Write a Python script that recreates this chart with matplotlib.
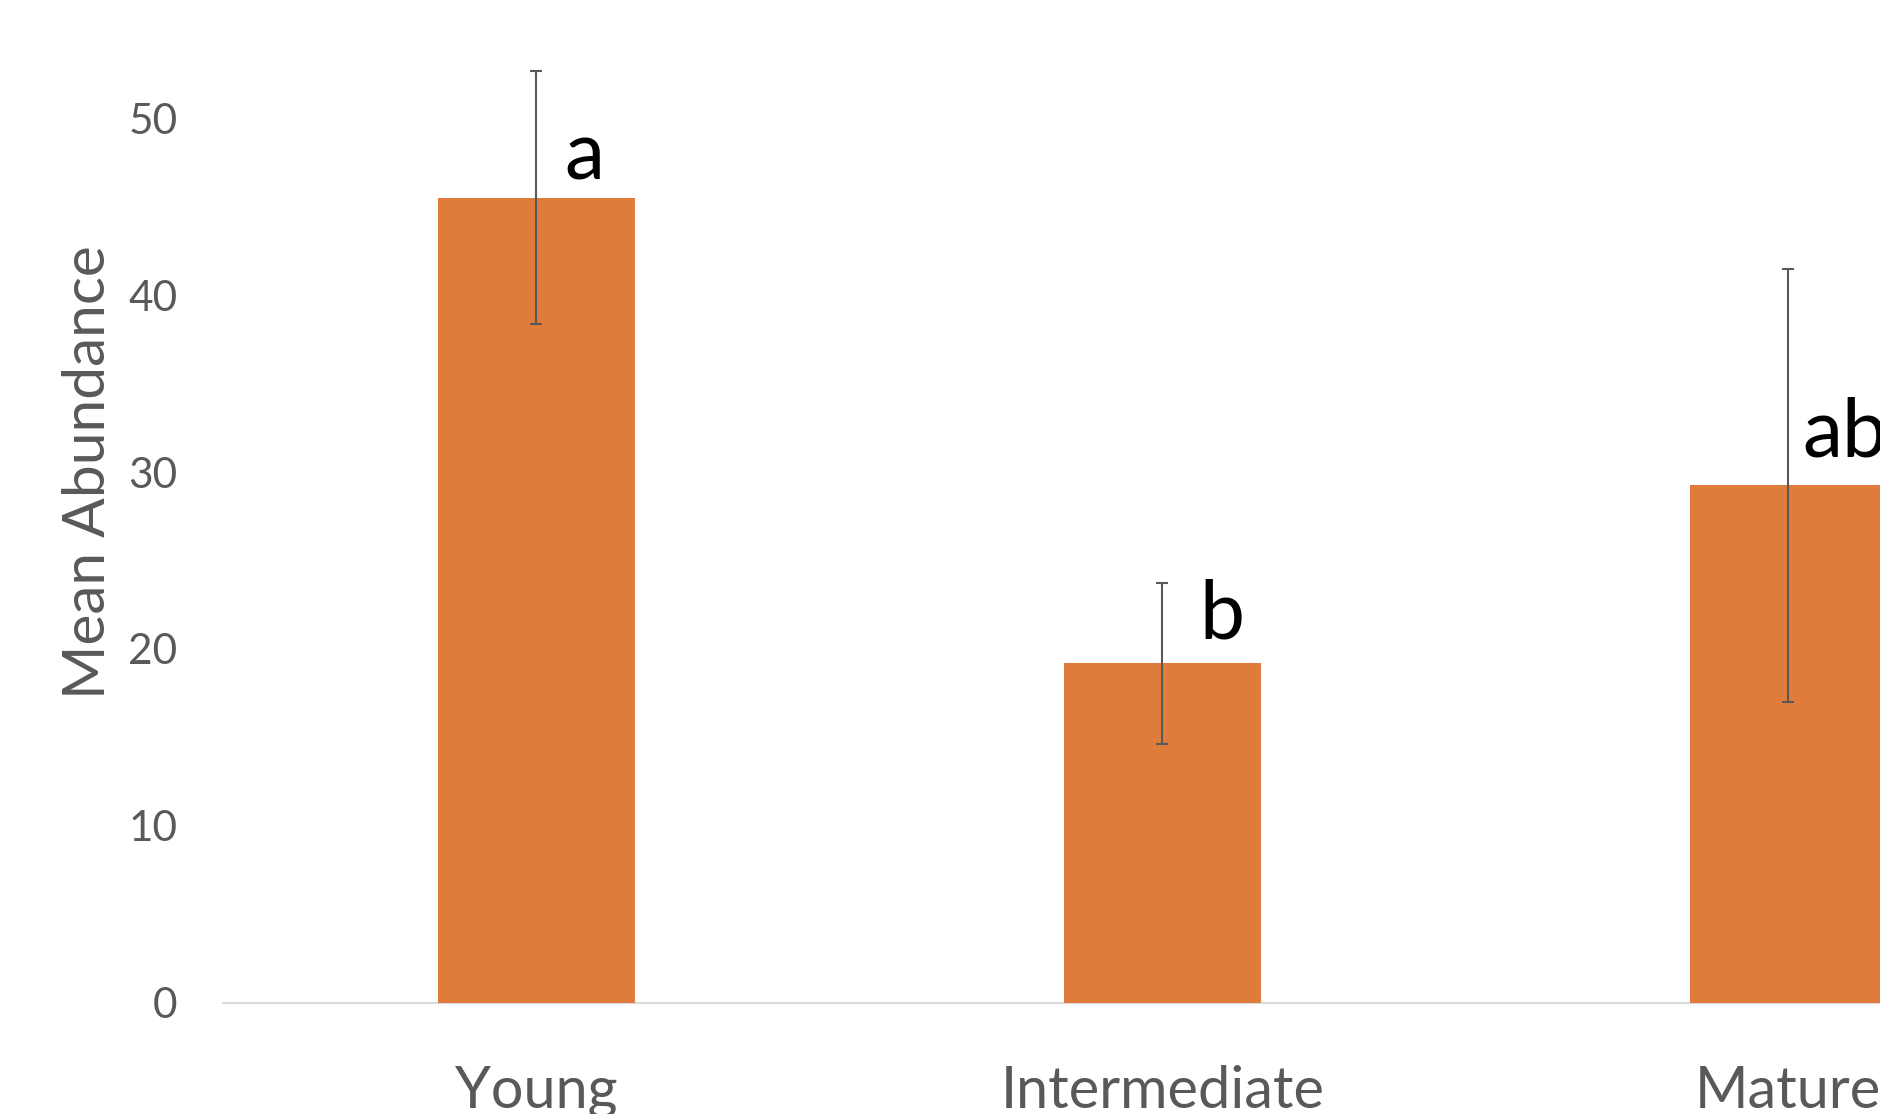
import matplotlib
matplotlib.use("Agg")
import matplotlib.pyplot as plt

plt.rcParams['font.family'] = ['Lato', 'DejaVu Sans']

categories = ["Young", "Intermediate", "Mature"]
means = [45.5, 19.2, 29.25]
errors = [7.15, 4.55, 12.25]
letters = ["a", "b", "ab"]
letter_offsets_px = [(28, 18), (37, 25), (14, 29)]
yticks = [0, 10, 20, 30, 40, 50]

bar_color = "#E07C3B"
text_gray = "#595959"

fig = plt.figure(figsize=(18.8, 11.14), dpi=100)
# axes extends beyond the figure on the right/top (reference is cropped)
W, H = 1880.0, 1114.0
x_left_px = 223.3
unit_px = 626.0
y0_px = 1002.7
ten_px = 176.9
ymax = 60
ax = fig.add_axes([x_left_px / W, (H - y0_px) / H,
                   3 * unit_px / W, (ymax / 10) * ten_px / H])

x = list(range(len(categories)))
ax.bar(x, means, width=0.314, color=bar_color, zorder=2)
ax.errorbar(x, means, yerr=errors, fmt='none', ecolor=text_gray,
            elinewidth=1.5, capsize=4.3, capthick=1.5, zorder=3)

for xi, m, lab, (dx, dy) in zip(x, means, letters, letter_offsets_px):
    ax.annotate(lab, xy=(xi, m), xytext=(dx, dy), textcoords='offset pixels',
                ha='left', va='baseline', fontsize=58, color='black')

ax.set_xlim(-0.5, 2.5)
ax.set_ylim(0, ymax)
ax.set_yticks(yticks)
ax.set_xticks(x)
ax.set_xticklabels(categories)

for s in ['top', 'right', 'left']:
    ax.spines[s].set_visible(False)
ax.spines['bottom'].set_color('#D9D9D9')
ax.spines['bottom'].set_linewidth(1.5)
ax.spines['bottom'].set_zorder(1)

ax.tick_params(axis='y', length=0, pad=33, labelsize=30.5, labelcolor=text_gray)
ax.tick_params(axis='x', length=0, pad=45, labelsize=41.5, labelcolor=text_gray)

fig.text(62 / W, (H - 472.5) / H, "Mean Abundance", rotation=90,
         ha='left', va='center', fontsize=42.2, color=text_gray)

fig.savefig("out.png", dpi=100)
